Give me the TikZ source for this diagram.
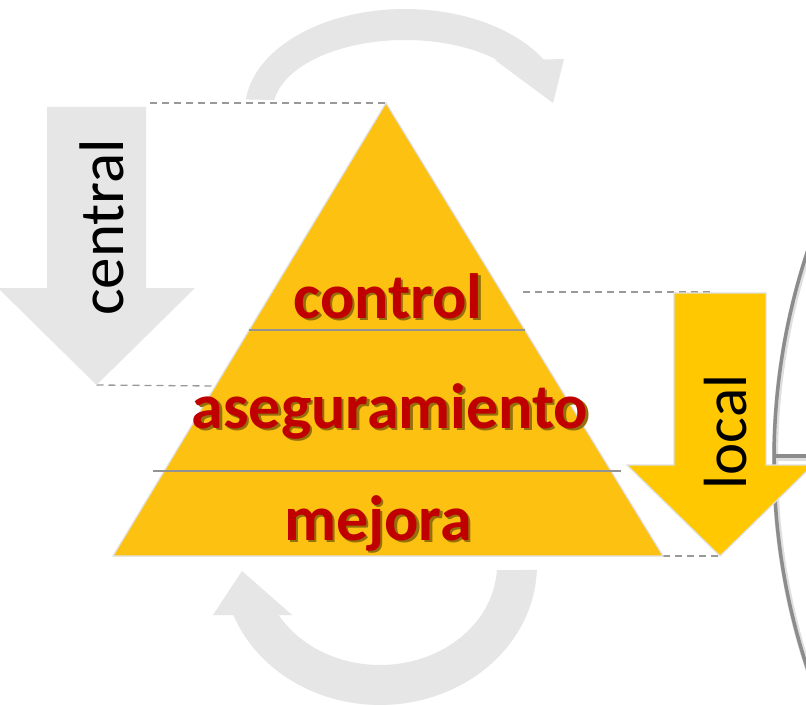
\documentclass[tikz,border=0pt]{standalone}
\usepackage{fontspec}
\setmainfont{Carlito}
\definecolor{pyryellow}{HTML}{FDC112}
\definecolor{locyellow}{HTML}{FFC800}
\definecolor{arrgray}{HTML}{E6E6E6}
\definecolor{txtred}{HTML}{C00000}
\definecolor{dashgray}{HTML}{999999}
\definecolor{circgray}{HTML}{8C8C8C}
\newcommand{\shadowed}[1]{%
  \rlap{\hspace{2.5pt}\raisebox{-2.5pt}{\textcolor{pyryellow!58!black}{#1}}}%
  #1}
\tikzset{
  grayarr/.style={fill=arrgray},
  rim/.style={draw=white!88!black, line width=1.2pt, line join=miter},
  pyrtext/.style={font=\bfseries\fontsize{64}{70}\selectfont, text=txtred, inner sep=0pt, anchor=base},
  sidetext/.style={font=\fontsize{63}{68}\selectfont, text=black, inner sep=0pt, anchor=base, rotate=90},
  guide/.style={draw=dashgray, line width=1.3pt, dash pattern=on 7pt off 5pt},
  layerline/.style={draw=gray!85, line width=1.5pt},
}
\begin{document}
\begin{tikzpicture}[x=1pt,y=-1pt]
\useasboundingbox (0,0) rectangle (806,706);
\clip (0,0) rectangle (806,706);
\fill[white] (0,0) rectangle (806,706);

% curved grey arrows
\fill[grayarr] plot[domain=186:330,samples=80] ({405+160*cos(\x)},{110+101*sin(\x)})
  -- (564,59) -- (553,103) -- (495,60)
  -- plot[domain=314.4:188.2,samples=80] ({405+132*cos(\x)},{110+70*sin(\x)}) -- cycle;
\fill[grayarr] plot[domain=2:159,samples=80] ({380+157*cos(\x)},{565+140*sin(\x)})
  -- (213,615) -- (242,571) -- (292,615)
  -- plot[domain=150:3,samples=80] ({380+117*cos(\x)},{565+100*sin(\x)}) -- cycle;

% coordinates
\coordinate (apex) at (386,103);
\coordinate (bl) at (113,556);
\coordinate (br) at (663,556);
\coordinate (ctip) at (96.5,385);
\coordinate (ltip) at (720,556);
\coordinate (topL) at (150,103);
\coordinate (midL) at (213,386);
\coordinate (ctrR) at (523,292);
\coordinate (locTop) at (714,292);

% dashed guides
\draw[guide] (topL) -- (apex);
\draw[guide] (ctip) -- (midL);
\draw[guide] (ctrR) -- (locTop);
\draw[guide] (br) -- (ltip);

% central arrow
\fill[grayarr] (47,107) -- (146,107) -- (146,288) -- (195,288) -- (ctip) -- (-2,288) -- (47,288) -- cycle;
\node[sidetext] (central) at (123,227.5) {central};

% pyramid
\filldraw[fill=pyryellow, rim] (apex) -- (br) -- (bl) -- cycle;
\draw[layerline] (249,330) -- (525,330);
\draw[layerline] (153,471) -- (621,471);

\node[pyrtext] (t1) at (388,318) {\shadowed{control}};
\node[pyrtext] (t2) at (390,428) {\shadowed{aseguramiento}};
\node[pyrtext] (t3) at (378,540) {\shadowed{mejora}};

% circle at right
\draw[gray!25, line width=6pt] (1438,461) circle[radius=663pt];
\draw[circgray, line width=3.5pt] (1437,460) circle[radius=663pt];
\draw[gray!25, line width=5pt] (776,458) -- (806,458);
\draw[circgray, line width=3.5pt] (774,456) -- (806,456);

% local arrow
\filldraw[fill=locyellow, rim] (674,293) -- (766,293) -- (766,465) -- (813,465) -- (ltip) -- (627,465) -- (674,465) -- cycle;
\node[sidetext, font=\fontsize{61}{66}\selectfont] (local) at (746,432) {local};
\end{tikzpicture}
\end{document}
